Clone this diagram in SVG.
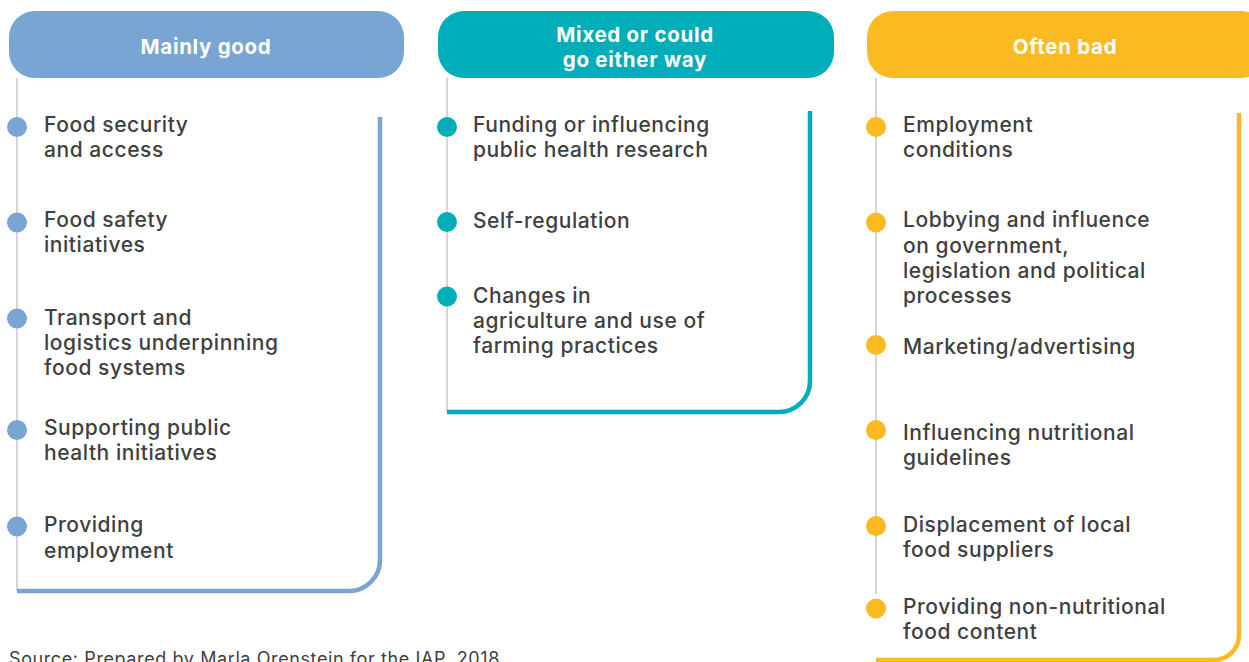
<svg xmlns="http://www.w3.org/2000/svg" width="1249" height="662" viewBox="0 0 1249 662">
<style>
.hdr{font-family:Inter,"Open Sans","Liberation Sans",sans-serif;font-weight:700;font-size:20.5px;letter-spacing:0.7px;fill:#ffffff;text-anchor:middle}
.itm{font-family:Inter,"Open Sans","Liberation Sans",sans-serif;font-weight:500;font-size:21px;letter-spacing:0.55px;fill:#404040}
.src{font-family:Inter,"Open Sans","Liberation Sans",sans-serif;font-weight:400;font-size:18px;letter-spacing:0.6px;fill:#404040}
.spine{stroke:#c9c9c9;stroke-width:1.5;fill:none}
.frame{fill:none;stroke-width:4.5}
</style>
<rect width="1249" height="662" fill="#ffffff"/>
<g id="connectors">
<line class="spine" x1="17" y1="78" x2="17" y2="591"/>
<line class="spine" x1="447" y1="78" x2="447" y2="412"/>
<line class="spine" x1="876" y1="78" x2="876" y2="594"/>
<path class="frame" stroke="#78A5D1" d="M17,591 H349 A31,31 0 0 0 380,560 V117"/>
<path class="frame" stroke="#00ADB9" d="M447,412 H779 A31,31 0 0 0 810,381 V111"/>
<path class="frame" stroke="#FBBA22" d="M876,660 H1214 A25,25 0 0 0 1239,635 V113"/>
</g>
<g id="col-good">
<g id="hdr-good"><rect x="9" y="11" width="395" height="67" rx="26" fill="#78A5D1"/><text class="hdr" x="206" y="54">Mainly good</text></g>
<g id="good-1" fill="#78A5D1"><circle cx="17" cy="127" r="10"/><text class="itm" x="44" y="132">Food security</text><text class="itm" x="44" y="157">and access</text></g>
<g id="good-2" fill="#78A5D1"><circle cx="17" cy="222.5" r="10"/><text class="itm" x="44" y="227">Food safety</text><text class="itm" x="44" y="252">initiatives</text></g>
<g id="good-3" fill="#78A5D1"><circle cx="17" cy="318.5" r="10"/><text class="itm" x="44" y="324.5">Transport and</text><text class="itm" x="44" y="350">logistics underpinning</text><text class="itm" x="44" y="375">food systems</text></g>
<g id="good-4" fill="#78A5D1"><circle cx="17" cy="430" r="10"/><text class="itm" x="44" y="435">Supporting public</text><text class="itm" x="44" y="459.5">health initiatives</text></g>
<g id="good-5" fill="#78A5D1"><circle cx="17" cy="526.5" r="10"/><text class="itm" x="44" y="532">Providing</text><text class="itm" x="44" y="557.5">employment</text></g>
</g>
<g id="col-mixed">
<g id="hdr-mixed"><rect x="438" y="11" width="396" height="67" rx="26" fill="#00ADB9"/><text class="hdr" x="635" y="41.5">Mixed or could</text><text class="hdr" x="635" y="67">go either way</text></g>
<g id="mixed-1" fill="#00ADB9"><circle cx="447" cy="127" r="10"/><text class="itm" x="473" y="132">Funding or influencing</text><text class="itm" x="473" y="157">public health research</text></g>
<g id="mixed-2" fill="#00ADB9"><circle cx="447" cy="222" r="10"/><text class="itm" x="473" y="228">Self-regulation</text></g>
<g id="mixed-3" fill="#00ADB9"><circle cx="447" cy="296.5" r="10"/><text class="itm" x="473" y="303">Changes in</text><text class="itm" x="473" y="328">agriculture and use of</text><text class="itm" x="473" y="353">farming practices</text></g>
</g>
<g id="col-bad">
<g id="hdr-bad"><rect x="867" y="11" width="400" height="67" rx="26" fill="#FBBA22"/><text class="hdr" x="1065" y="54">Often bad</text></g>
<g id="bad-1" fill="#FBBA22"><circle cx="876" cy="127" r="10"/><text class="itm" x="903" y="132">Employment</text><text class="itm" x="903" y="157">conditions</text></g>
<g id="bad-2" fill="#FBBA22"><circle cx="876" cy="222.5" r="10"/><text class="itm" x="903" y="226.5">Lobbying and influence</text><text class="itm" x="903" y="252.5">on government,</text><text class="itm" x="903" y="278">legislation and political</text><text class="itm" x="903" y="303">processes</text></g>
<g id="bad-3" fill="#FBBA22"><circle cx="876" cy="345" r="10"/><text class="itm" x="903" y="353.5">Marketing/advertising</text></g>
<g id="bad-4" fill="#FBBA22"><circle cx="876" cy="430" r="10"/><text class="itm" x="903" y="439.5">Influencing nutritional</text><text class="itm" x="903" y="465">guidelines</text></g>
<g id="bad-5" fill="#FBBA22"><circle cx="876" cy="526" r="10"/><text class="itm" x="903" y="531.5">Displacement of local</text><text class="itm" x="903" y="557">food suppliers</text></g>
<g id="bad-6" fill="#FBBA22"><circle cx="876" cy="608.5" r="10"/><text class="itm" x="903" y="613.5">Providing non-nutritional</text><text class="itm" x="903" y="638.5">food content</text></g>
</g>
<text class="src" x="9" y="665">Source: Prepared by Marla Orenstein for the IAP, 2018</text>
</svg>
